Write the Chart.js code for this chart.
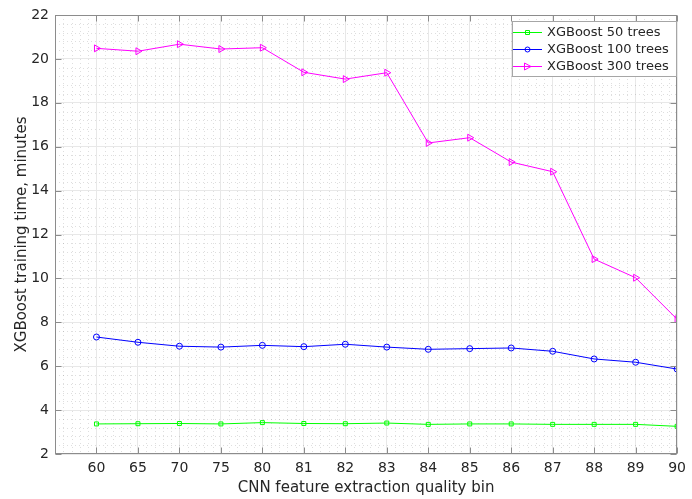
<!DOCTYPE html>
<html>
<head>
<meta charset="utf-8">
<script src="https://cdn.jsdelivr.net/npm/chart.js@4/dist/chart.umd.min.js"></script>
<style>
html,body{margin:0;padding:0;background:#fff;}
#wrap{width:692px;height:499px;position:relative;}
</style>
</head>
<body>
<div id="wrap"><canvas id="c" width="692" height="499"></canvas></div>
<script>
const categories = ['60','65','70','75','80','81','82','83','84','85','86','87','88','89','90'];
const trees50  = [3.37,3.38,3.39,3.37,3.43,3.39,3.38,3.41,3.35,3.37,3.37,3.35,3.35,3.35,3.26];
const trees100 = [7.33,7.09,6.91,6.87,6.95,6.89,7.00,6.87,6.77,6.80,6.83,6.68,6.33,6.18,5.87];
const trees300 = [20.48,20.35,20.67,20.45,20.51,19.39,19.08,19.37,16.17,16.41,15.30,14.86,10.88,10.03,8.14];
const yTicks = [2,4,6,8,10,12,14,16,18,20,22];
const seriesLabels = ['XGBoost 50 trees','XGBoost 100 trees','XGBoost 300 trees'];
const seriesColors = ['#00ff00','#0000ff','#ff00ff'];
const seriesMarkers = ['rect','circle','triangle'];

const FONT = "'DejaVu Sans', sans-serif";
const toPts = arr => arr.map((v,i)=>({x:i+1,y:v}));

function drawMarker(ctx, type, x, y, color){
  ctx.save();
  ctx.strokeStyle = color; ctx.lineWidth = 1;
  ctx.beginPath();
  if(type==='rect'){ ctx.rect(x-2,y-2,4,4); }
  else if(type==='circle'){ ctx.arc(x,y,2.5,0,Math.PI*2); }
  else { ctx.moveTo(x-3,y-3.5); ctx.lineTo(x+3.5,y); ctx.lineTo(x-3,y+3.5); ctx.closePath(); }
  ctx.stroke();
  ctx.restore();
}

const decor = {
  id:'decor',
  beforeDatasetsDraw(chart){
    const {ctx, chartArea:a, scales:{x,y}} = chart;
    ctx.save();
    ctx.strokeStyle = 'rgba(0,0,0,0.13)';
    ctx.lineWidth = 1;
    ctx.setLineDash([1,3]);
    for(let i=0;i<15;i++){
      for(let k=1;k<5;k++){
        const px = Math.round(x.getPixelForValue(i+k/5))+0.5;
        ctx.beginPath(); ctx.moveTo(px,a.top); ctx.lineTo(px,a.bottom); ctx.stroke();
      }
    }
    for(let v=2; v<22; v+=2){
      for(let k=1;k<5;k++){
        const py = Math.round(y.getPixelForValue(v+k*0.4))+0.5;
        ctx.beginPath(); ctx.moveTo(a.left,py); ctx.lineTo(a.right,py); ctx.stroke();
      }
    }
    ctx.restore();
  },
  afterDatasetsDraw(chart){
    const {ctx, chartArea:a, scales:{x,y}} = chart;
    ctx.save();
    ctx.strokeStyle = '#8c8c8c';
    ctx.lineWidth = 1;
    const L = Math.round(a.left)+0.5, R = Math.round(a.right)-0.5, T = Math.round(a.top)+0.5, B = Math.round(a.bottom)-0.5;
    ctx.strokeRect(L,T,R-L,B-T);
    ctx.beginPath();
    for(let i=1;i<=15;i++){
      const px = Math.round(x.getPixelForValue(i))+0.5;
      ctx.moveTo(px,B); ctx.lineTo(px,B-6);
      ctx.moveTo(px,T); ctx.lineTo(px,T+6);
    }
    yTicks.forEach(v=>{
      const py = Math.round(y.getPixelForValue(v))+0.5;
      ctx.moveTo(L,py); ctx.lineTo(L+6,py);
      ctx.moveTo(R,py); ctx.lineTo(R-6,py);
    });
    ctx.stroke();
    ctx.restore();
  },
  afterDraw(chart){
    const ctx = chart.ctx;
    const bx = 512.5, by = 21.5, bw = 164, bh = 55;
    ctx.save();
    ctx.fillStyle = '#fff';
    ctx.fillRect(bx,by,bw,bh);
    ctx.strokeStyle = '#a6a6a6'; ctx.lineWidth = 1;
    ctx.strokeRect(bx,by,bw,bh);
    ctx.font = '13px ' + FONT;
    ctx.textBaseline = 'middle';
    chart.data.datasets.forEach((ds,i)=>{
      const yy = 32.5 + i*17;
      ctx.strokeStyle = ds.borderColor; ctx.lineWidth = 1;
      ctx.beginPath(); ctx.moveTo(513,yy); ctx.lineTo(542,yy); ctx.stroke();
      drawMarker(ctx, seriesMarkers[i], 527.5, yy, ds.borderColor);
      ctx.fillStyle = '#262626';
      ctx.fillText(ds.label, 547, yy+0.5);
    });
    ctx.restore();
  }
};

const datasets = [trees50, trees100, trees300].map((arr,i)=>({
  label: seriesLabels[i],
  data: toPts(arr),
  borderColor: seriesColors[i],
  backgroundColor: 'rgba(0,0,0,0)',
  borderWidth: 1,
  pointStyle: seriesMarkers[i],
  pointRotation: seriesMarkers[i]==='triangle' ? 90 : 0,
  pointRadius: seriesMarkers[i]==='rect' ? 2.8 : (seriesMarkers[i]==='circle' ? 3 : 4),
  pointBorderWidth: 1,
  pointBackgroundColor: 'rgba(0,0,0,0)',
  tension: 0
}));

new Chart(document.getElementById('c'), {
  type: 'line',
  data: { datasets },
  options: {
    responsive: false,
    animation: false,
    devicePixelRatio: 1,
    layout: { padding: { left: 0, right: 11, top: 15, bottom: 0 } },
    plugins: { legend: { display: false }, tooltip: { enabled: false } },
    scales: {
      x: {
        type: 'linear', min: 0, max: 15,
        afterFit(s){ s.height = 45; },
        afterBuildTicks(s){ s.ticks = Array.from({length:16},(_,i)=>({value:i})); },
        ticks: {
          autoSkip: false, maxRotation: 0, padding: 6,
          color: '#262626', font: { family: FONT, size: 14 },
          callback: v => v>=1 ? categories[v-1] : ''
        },
        grid: { color: '#e8e8e8', drawTicks: false, lineWidth: 1 },
        border: { display: false },
        title: { display: true, text: 'CNN feature extraction quality bin', color: '#262626',
                 font: { family: FONT, size: 15 }, padding: { top: 0, bottom: 2 } }
      },
      y: {
        min: 2, max: 22,
        afterFit(s){ s.width = 55; },
        afterBuildTicks(s){ s.ticks = yTicks.map(v=>({value:v})); },
        ticks: { color: '#262626', font: { family: FONT, size: 14 }, padding: 6 },
        grid: { color: '#e8e8e8', drawTicks: false, lineWidth: 1 },
        border: { display: false },
        title: { display: true, text: 'XGBoost training time, minutes', color: '#262626',
                 font: { family: FONT, size: 15 }, padding: { top: 13, bottom: 0 } }
      }
    }
  },
  plugins: [decor]
});
</script>
</body>
</html>
